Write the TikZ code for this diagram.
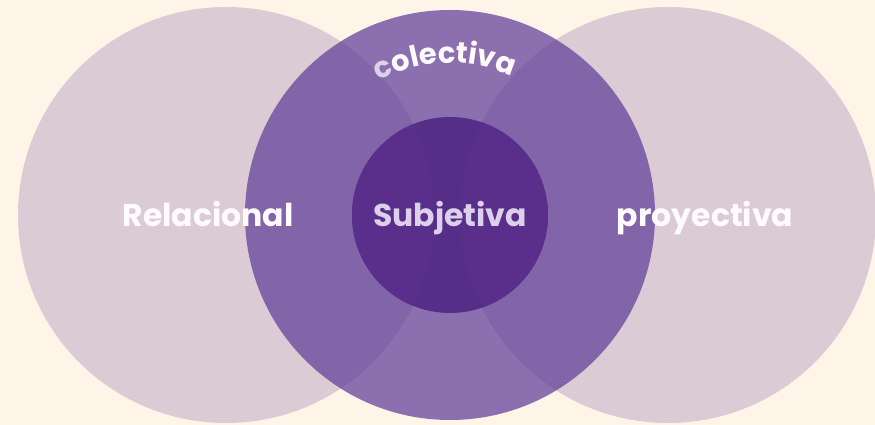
\documentclass[tikz,border=0pt]{standalone}
\usepackage{fontspec}
\setmainfont{Poppins}
\usetikzlibrary{decorations.text}
\definecolor{bgc}{HTML}{FEF4E7}
\definecolor{sidec}{HTML}{DBCBD4}
\definecolor{midc}{HTML}{623F99}
\definecolor{innerA}{HTML}{5A2F8B}
\definecolor{innerB}{HTML}{552E87}
\definecolor{lav}{HTML}{DCD0EA}
\definecolor{wht}{HTML}{FFFBFF}
\newcommand{\curvefont}{\fontsize{29}{31}\selectfont\bfseries\addfontfeature{LetterSpace=10}}
\tikzset{
  lbl/.style={anchor=base, font=\fontsize{31.5}{33}\selectfont\bfseries, text=wht},
}
\begin{document}
\begin{tikzpicture}[x=1pt,y=1pt]
\fill[bgc] (0,0) rectangle (875,425);
\useasboundingbox (0,0) rectangle (875,425);
% side circles
\fill[sidec] (226,210) circle[radius=208];
\fill[sidec] (668,210) circle[radius=208];
% middle circle
\fill[midc, fill opacity=0.73] (450,210) circle[radius=205];
% inner circle
\begin{scope}
  \clip (450,210) circle[radius=98];
  \fill[innerB] (450,210) circle[radius=98];
  \fill[innerA] (226,210) circle[radius=208];
  \fill[innerA] (668,210) circle[radius=208];
\end{scope}
% labels
\node[lbl] (rel) at (208,198) {Relacional};
\node[lbl, text=lav] (sub) at (450,198) {Subjetiva};
\node[lbl] (proy) at (705,198) {proyectiva};
\path[decorate, decoration={text along path, text align=center,
  text={|\curvefont\color{lav}|c|\curvefont\color{wht}|olectiva}}]
  (450,210) ++(134:152) arc[start angle=134, end angle=50, radius=152];
\end{tikzpicture}
\end{document}
